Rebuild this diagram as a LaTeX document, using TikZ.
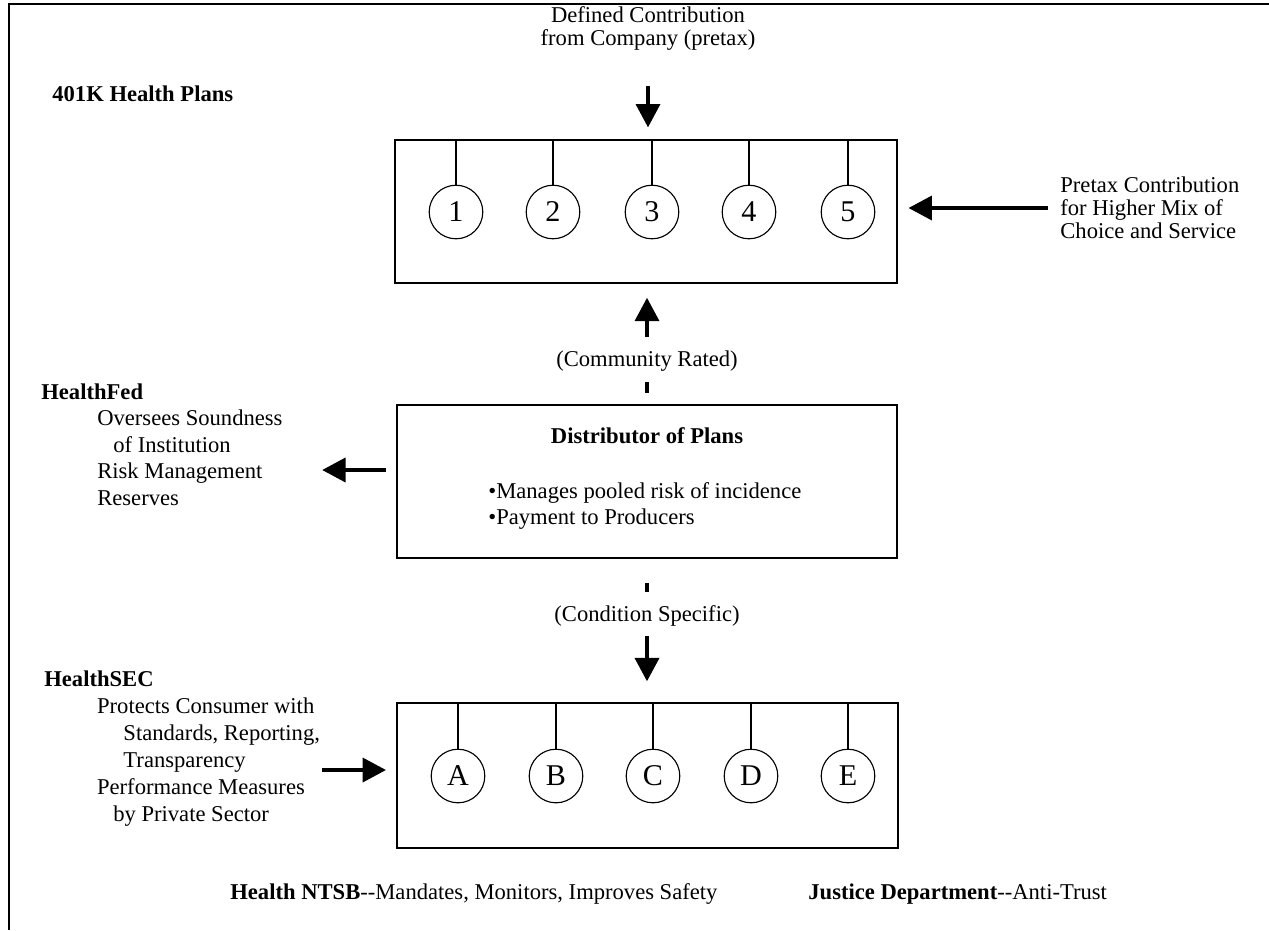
\documentclass[tikz,border=0pt]{standalone}
\usepackage{fontspec}
\setmainfont{Liberation Serif}
\usetikzlibrary{arrows.meta,fit}
\newcommand{\bodysize}{\fontsize{12}{12.2}\selectfont}

\begin{document}
\begin{tikzpicture}[x=0.01866cm,y=-0.01866cm,
  txt/.style={inner sep=0pt,font=\bodysize},
  panel/.style={draw,line width=0.7pt,inner sep=0pt},
  plan/.style={draw,circle,line width=0.6pt,minimum size=1.0cm,inner sep=0pt,
    font=\fontsize{16}{16}\selectfont},
  stem/.style={line width=0.6pt},
  fatarrow/.style={line width=2.6pt,-{Triangle[length=12.5pt,width=12.5pt]}},
  fatdash/.style={line width=2.6pt}]

\useasboundingbox (0,0) rectangle (1269,930);
\draw[line width=1pt] (1269,4) -- (9,4) -- (9,930);

% 401K plans on top
\node[txt,anchor=base west,font=\bodysize\bfseries] (fourk) at (52,101) {401K Health Plans};
\node[txt,anchor=north,align=center] (contrib) at (648,6) {Defined Contribution\\from Company (pretax)};

\node[panel,fit={(395,140) (897,283)}] (plans) {};
\foreach \n/\x in {1/456,2/553,3/652,4/749,5/848} {
  \node[plan] (p\n) at (\x,212) {\n};
  \draw[stem] (p\n.north) -- (p\n.north |- plans.north);
}
\draw[fatarrow,shorten <=0.67cm,shorten >=0.22cm] (contrib.south) -- (contrib.south |- plans.north);

\node[txt,anchor=west,align=left] (pretax) at (1060,208) {Pretax Contribution\\for Higher Mix of\\Choice and Service};
\draw[fatarrow,shorten <=0.22cm,shorten >=0.2cm] (pretax.west) -- (pretax.west -| plans.east);

% distributor in the middle
\node[panel,fit={(397,405) (897,558)}] (dist) {};
\node[txt,anchor=base,font=\bodysize\bfseries] (disttitle) at (647,443) {Distributor of Plans};
\node[txt,anchor=north west,align=left,font=\fontsize{12}{13.8}\selectfont] (distjobs) at (488,482.6)
  {•Manages pooled risk of incidence\\•Payment to Producers};

\node[txt,anchor=base] (rated) at (647,366) {(Community Rated)};
\draw[fatdash,shorten <=0.22cm,shorten >=0.2cm] (dist.north) -- (rated.south);
\draw[fatarrow,shorten <=0.235cm,shorten >=0.26cm] (rated.north) -- (rated.north |- plans.south);

\node[txt,anchor=base] (specific) at (647,621) {(Condition Specific)};
\draw[fatdash,shorten <=0.45cm,shorten >=0.235cm] (dist.south) -- (specific.north);

% producers at the bottom
\node[panel,fit={(397,703) (898,848)}] (prod) {};
\foreach \n/\x in {A/458,B/556,C/653,D/751,E/848} {
  \node[plan] (q\n) at (\x,776) {\n};
  \draw[stem] (q\n.north) -- (q\n.north |- prod.north);
}
\draw[fatarrow,shorten <=0.19cm,shorten >=0.39cm] (specific.south) -- (specific.south |- prod.north);

% regulators on the left
\node[txt,anchor=north west,align=left,font=\fontsize{12}{14}\selectfont] (fed) at (41,383.5)
  {\textbf{HealthFed}\\\hspace*{29.7pt}Oversees Soundness\\\hspace*{38.2pt}of Institution\\
   \hspace*{29.7pt}Risk Management\\\hspace*{29.7pt}Reserves};
\coordinate (fedtip) at (322,470);
\draw[fatarrow,shorten <=0.19cm] (dist.west |- fedtip) -- (fedtip);

\node[txt,anchor=north west,align=left,font=\fontsize{12}{14.3}\selectfont] (sec) at (44,670.6)
  {\textbf{HealthSEC}\\\hspace*{28pt}Protects Consumer with\\\hspace*{42pt}Standards, Reporting,\\
   \hspace*{42pt}Transparency\\\hspace*{28pt}Performance Measures\\\hspace*{36.6pt}by Private Sector};
\coordinate (sectail) at (322,770);
\draw[fatarrow,shorten >=0.19cm] (sectail) -- (sectail -| prod.west);

\node[txt,anchor=base west] (ntsb) at (230,899) {\textbf{Health NTSB}-{}-Mandates, Monitors, Improves Safety};
\node[txt,anchor=base west] (justice) at (808,899) {\textbf{Justice Department}-{}-Anti-Trust};

\end{tikzpicture}
\end{document}
